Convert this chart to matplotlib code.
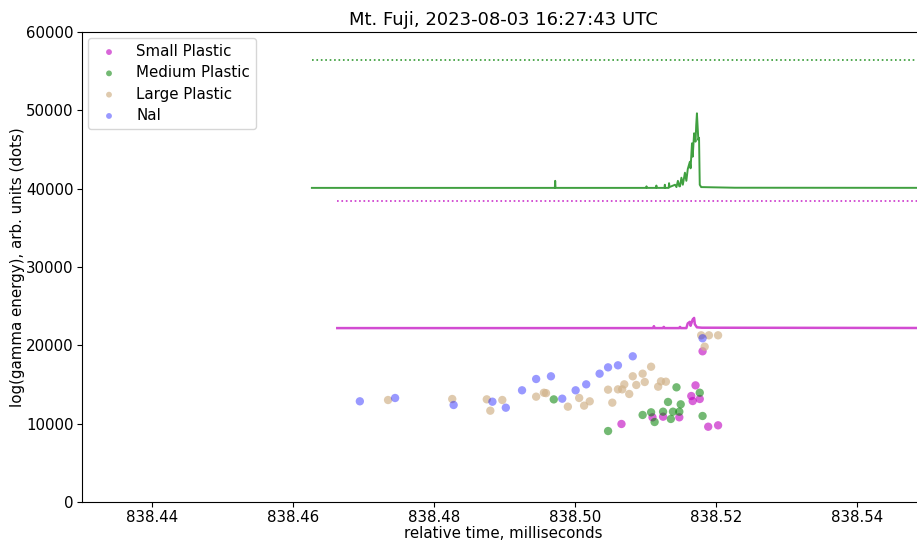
import matplotlib
matplotlib.use("Agg")
import matplotlib.pyplot as plt
import numpy as np

title = "Mt. Fuji, 2023-08-03 16:27:43 UTC"
xlabel = "relative time, milliseconds"
ylabel = "log(gamma energy), arb. units (dots)"

# Medium plastic waveform (green trace), offset display
green_t = [838.4627, 838.49715, 838.4972, 838.49725, 838.5101, 838.51015, 838.5102,
           838.5115, 838.51155, 838.5116, 838.5127, 838.51275, 838.5128,
           838.5133, 838.51335, 838.5134, 838.5142, 838.5144, 838.5146, 838.5148,
           838.5149, 838.5151, 838.5153, 838.5156, 838.5158, 838.5160, 838.5163,
           838.5164, 838.5166, 838.5167, 838.5169, 838.5171, 838.5172, 838.5173,
           838.5175, 838.5176, 838.5177, 838.5179, 838.5227, 838.5600]
green_v = [40100, 40100, 41000, 40100, 40100, 40300, 40100,
           40100, 40400, 40100, 40100, 40500, 40100,
           40100, 40700, 40200, 40500, 40200, 41000, 40300,
           40300, 41400, 40500, 42040, 41000, 42500, 43440,
           42600, 45790, 44080, 47070, 46000, 48130, 49620,
           46210, 46500, 40500, 40200, 40120, 40100]
green_thresh_t = [838.4627, 838.5600]
green_thresh_v = [56400, 56400]

# Small plastic waveform (magenta trace)
mag_t = [838.4663, 838.5111, 838.5112, 838.5113, 838.5125, 838.5126, 838.5127,
         838.5148, 838.5149, 838.5150, 838.5158, 838.5160, 838.5163, 838.5164,
         838.5167, 838.5169, 838.5170, 838.5173, 838.5180, 838.5600]
mag_v = [22200, 22200, 22450, 22200, 22200, 22350, 22200,
         22200, 22350, 22200, 22200, 22800, 23000, 22500,
         23300, 23500, 22700, 22300, 22250, 22200]
mag_thresh_t = [838.4663, 838.5600]
mag_thresh_v = [38400, 38400]

# Scatter events
small_t = [838.5181, 838.5066, 838.5110, 838.5125, 838.5148, 838.5165, 838.5167,
           838.5171, 838.5177, 838.5189, 838.5203]
small_v = [19240, 9960, 10810, 10890, 10810, 13530, 12890, 14890, 13150, 9610, 9790]

medium_t = [838.4970, 838.5047, 838.5096, 838.5108, 838.5113, 838.5125, 838.5132,
            838.5136, 838.5139, 838.5144, 838.5148, 838.5150, 838.5177, 838.5181]
medium_v = [13100, 9060, 11110, 11450, 10210, 11530, 12770,
            10600, 11530, 14640, 11530, 12470, 13950, 10980]

large_t = [838.4735, 838.4826, 838.4875, 838.4880, 838.4897, 838.4945, 838.4956,
           838.4959, 838.4990, 838.5006, 838.5013, 838.5021, 838.5047, 838.5053,
           838.5061, 838.5067, 838.5070, 838.5077, 838.5082, 838.5087, 838.5096,
           838.5099, 838.5108, 838.5118, 838.5122, 838.5129, 838.5179, 838.5184,
           838.5190, 838.5203]
large_v = [13020, 13149, 13106, 11657, 13021, 13447, 13950,
           13900, 12170, 13280, 12300, 12850, 14340, 12680,
           14380, 14380, 15020, 13790, 16050, 14940, 16380,
           15320, 17270, 14720, 15400, 15360, 21280, 19830,
           21280, 21280]

nai_t = [838.4695, 838.4745, 838.4828, 838.4883, 838.4902, 838.4925, 838.4945,
         838.4966, 838.4982, 838.5001, 838.5016, 838.5035, 838.5047, 838.5061,
         838.5082, 838.5181]
nai_v = [12855, 13277, 12383, 12804, 12038, 14259, 15702,
         16047, 13190, 14260, 15020, 16380, 17190, 17450,
         18600, 20900]

xticks = [838.44, 838.46, 838.48, 838.50, 838.52, 838.54]
yticks = [0, 10000, 20000, 30000, 40000, 50000, 60000]

fig = plt.figure(figsize=(9.17, 5.41), dpi=100)
ax = fig.add_axes([82 / 917, 39 / 541, 842 / 917, 470 / 541])

ax.plot(green_thresh_t, green_thresh_v, color="g", linestyle=":", lw=1.2, alpha=0.8)
ax.plot(mag_thresh_t, mag_thresh_v, color="m", linestyle=":", lw=1.2, alpha=0.8)
ax.plot(green_t, green_v, color="g", lw=1.4, alpha=0.75)
ax.plot(mag_t, mag_v, color="m", lw=1.8, alpha=0.7)

ax.scatter(small_t, small_v, color="m", alpha=0.6, s=36, edgecolors="none", label="Small Plastic")
ax.scatter(medium_t, medium_v, color="g", alpha=0.55, s=36, edgecolors="none", label="Medium Plastic")
ax.scatter(large_t, large_v, color="tan", alpha=0.7, s=36, edgecolors="none", label="Large Plastic")
ax.scatter(nai_t, nai_v, color="b", alpha=0.4, s=36, edgecolors="none", label="NaI")

ax.set_xlim(838.4301, 838.5495)
ax.set_ylim(0, 60000)
ax.set_xticks(xticks)
ax.set_xticklabels([f"{t:.2f}" for t in xticks])
ax.set_yticks(yticks)
ax.tick_params(labelsize=10.8, length=3.5, pad=2.5)
ax.set_xlabel(xlabel, fontsize=10.8, labelpad=0.5)
ax.set_ylabel(ylabel, fontsize=10.8, labelpad=1)
ax.set_title(title, fontsize=13, pad=5)
ax.legend(loc="upper left", fontsize=10.8, markerscale=0.7, borderaxespad=0.4,
          labelspacing=0.42)

fig.savefig("out.png", dpi=100)
